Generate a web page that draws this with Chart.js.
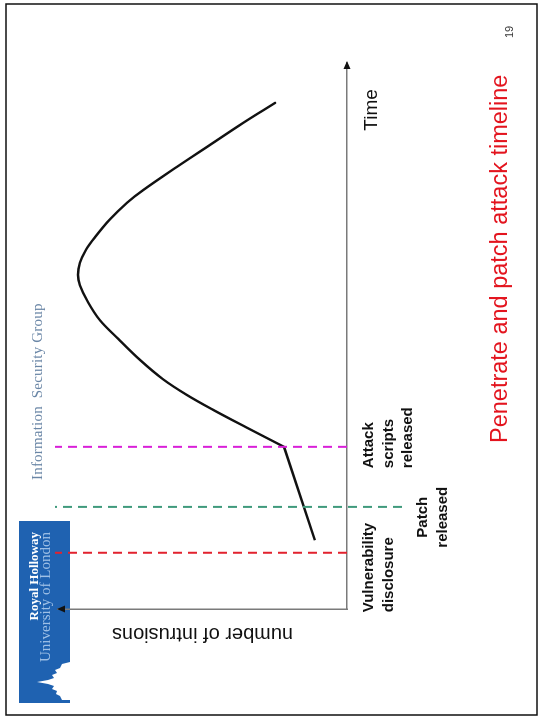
<!DOCTYPE html>
<html>
<head>
<meta charset="utf-8">
<title>Penetrate and patch attack timeline</title>
<script src="https://cdn.jsdelivr.net/npm/chart.js@4.4.0/dist/chart.umd.min.js"></script>
<style>
  html, body { margin: 0; padding: 0; background: #fff; width: 541px; height: 720px; overflow: hidden; }
  /* the slide is laid out landscape and turned a quarter turn anticlockwise */
  #slide { position: absolute; left: 0; top: 0; width: 720px; height: 541px;
           transform-origin: 0 0; transform: translateY(720px) rotate(-90deg); }
</style>
</head>
<body>
<div id="slide"><canvas id="chart" width="720" height="541"></canvas></div>
<script>
// Intrusions over time (arbitrary units on both axes)
const curveTime  = [12.6, 29.7, 33.2, 36.5, 39.2, 42.1, 45.6, 49.5, 52.9, 56.2, 59.3, 61.2, 63.4, 65.8, 68.1, 71.4, 74.4, 76.7, 81.0, 85.0, 89.0, 92.7];
const curveCount = [11.1, 21.8, 34.6, 46.4, 55.4, 63.7, 71.6, 79.2, 85.5, 89.6, 92.4, 93.1, 92.4, 90.3, 87.2, 82.0, 76.1, 70.6, 58.8, 47.4, 36.0, 24.9];
const scriptsIndex = 1;              // point where attack scripts appear (curve bends)

// Timeline events
const eventTimes  = [10.3, 18.7, 29.7];
const eventLabels = [["Vulnerability", "disclosure"], ["Patch", "released"], ["Attack", "scripts", "released"]];
const eventSpan   = [[0, 101], [-19, 101], [0, 101]];   // intrusion-axis extent of each marker line

// Axis titles
const xAxisTitle = "Time";
const yAxisTitle = "number of intrusions";
const slideTitle = "Penetrate and patch attack timeline";
const pageNumber = "19";

// Styling
const eventColors = ["#e2222e", "#3f9a7c", "#d81fd8"];
const labelAnchor = [-0.6, 16.8, 25.8];         // time value each event label is anchored at
const labelAlign  = ["left", "center", "left"];
const labelDrop   = [26, 80, 26];               // px below the time axis of first baseline
const SANS  = '"Liberation Sans", Arial, sans-serif';
const SERIF = '"Liberation Serif", "Times New Roman", serif';

const pts = (xs, ys) => xs.map((x, i) => ({ x, y: ys[i] }));

const datasets = [];
eventTimes.forEach((t, i) => {
  datasets.push({
    label: eventLabels[i].join(" "),
    data: [{ x: t, y: eventSpan[i][0] }, { x: t, y: eventSpan[i][1] }],
    borderColor: eventColors[i], borderWidth: 2, borderDash: [9, 6],
    pointRadius: 0, showLine: true, clip: false, tension: 0
  });
});
datasets.push({
  label: "before scripts",
  data: pts(curveTime.slice(0, scriptsIndex + 1), curveCount.slice(0, scriptsIndex + 1)),
  borderColor: "#111", borderWidth: 2.4, pointRadius: 0, showLine: true, tension: 0
});
datasets.push({
  label: "after scripts",
  data: pts(curveTime.slice(scriptsIndex), curveCount.slice(scriptsIndex)),
  borderColor: "#111", borderWidth: 2.4, pointRadius: 0, showLine: true, tension: 0.35,
  borderCapStyle: "round", borderJoinStyle: "round"
});

// Slide background: frame, college logo, group name
const slideBackground = {
  id: "slideBackground",
  beforeDraw(chart) {
    const ctx = chart.ctx;
    ctx.save();
    ctx.fillStyle = "#fff";
    ctx.fillRect(0, 0, chart.width, chart.height);
    ctx.strokeStyle = "#111";
    ctx.lineWidth = 1.5;
    ctx.strokeRect(5, 6, 711, 531);

    // logo block
    ctx.fillStyle = "#1f62b1";
    ctx.fillRect(17, 19, 182, 51);
    ctx.fillStyle = "#fff";
    ctx.beginPath();
    const castle = [[20,70],[20,62],[24,60],[26,56],[29,57],[31,52],[34,54],[36,48],[38,37],[40,48],[42,54],[45,52],[47,57],[50,55],[52,60],[56,62],[58,70]];
    castle.forEach(([u, v], i) => i ? ctx.lineTo(u, v) : ctx.moveTo(u, v));
    ctx.closePath();
    ctx.fill();
    ctx.textAlign = "right";
    ctx.textBaseline = "alphabetic";
    ctx.fillStyle = "#fff";
    ctx.font = "bold 13px " + SERIF;
    ctx.fillText("Royal Holloway", 188, 38);
    ctx.fillStyle = "#9fc0e6";
    ctx.font = "15px " + SERIF;
    ctx.fillText("University of London", 188, 50);

    // group name
    ctx.textAlign = "left";
    ctx.fillStyle = "#6a86a6";
    ctx.font = "15px " + SERIF;
    if ("letterSpacing" in ctx) ctx.letterSpacing = "0.2px";
    ctx.fillText("Information  Security Group", 240, 42);
    ctx.restore();
  }
};

// Axis arrows, axis titles, event labels, slide title
const annotations = {
  id: "annotations",
  afterDraw(chart) {
    const ctx = chart.ctx;
    const xs = chart.scales.x, ys = chart.scales.y;
    const area = chart.chartArea;
    const x0 = xs.getPixelForValue(0), y0 = ys.getPixelForValue(0);
    ctx.save();

    // arrowheads at the far ends of both axes
    ctx.fillStyle = "#111";
    ctx.beginPath();
    ctx.moveTo(area.right + 2, y0); ctx.lineTo(area.right - 6, y0 - 3.5); ctx.lineTo(area.right - 6, y0 + 3.5);
    ctx.closePath(); ctx.fill();
    ctx.beginPath();
    ctx.moveTo(x0, area.top - 1); ctx.lineTo(x0 - 3.5, area.top + 7); ctx.lineTo(x0 + 3.5, area.top + 7);
    ctx.closePath(); ctx.fill();

    // axis titles
    ctx.fillStyle = "#111";
    ctx.font = "19px " + SANS;
    ctx.textAlign = "left";
    ctx.textBaseline = "alphabetic";
    ctx.fillText(xAxisTitle, xs.getPixelForValue(87.6), y0 + 30);

    ctx.save();
    ctx.translate(x0 - 19, (area.top + area.bottom) / 2);
    ctx.rotate(-Math.PI / 2);
    ctx.textAlign = "center";
    ctx.font = "20px " + SANS;
    ctx.fillText(yAxisTitle, 0, 0);
    ctx.restore();

    // event labels
    ctx.font = "bold 15px " + SANS;
    eventLabels.forEach((lines, i) => {
      ctx.textAlign = labelAlign[i];
      const px = xs.getPixelForValue(labelAnchor[i]);
      lines.forEach((line, k) => ctx.fillText(line, px, y0 + labelDrop[i] + k * 19.5));
    });

    // slide title and page number
    ctx.fillStyle = "#e3141e";
    ctx.font = "23.5px " + SANS;
    ctx.textAlign = "left";
    ctx.fillText(slideTitle, 277, 507);
    ctx.fillStyle = "#333";
    ctx.font = "11px " + SANS;
    ctx.fillText(pageNumber, 682, 513);
    ctx.restore();
  }
};

new Chart(document.getElementById("chart"), {
  type: "scatter",
  data: { datasets },
  options: {
    responsive: false,
    animation: false,
    devicePixelRatio: 1,
    events: [],
    layout: { padding: { left: 111, right: 63, top: 58, bottom: 194 } },
    plugins: { legend: { display: false }, tooltip: { enabled: false }, title: { display: false } },
    scales: {
      x: {
        type: "linear", position: "bottom", min: 0, max: 100,
        grid: { display: false, drawTicks: false },
        ticks: { display: false },
        border: { display: true, color: "#7a7a7a", width: 1.5 }
      },
      y: {
        type: "linear", position: "left", min: 0, max: 100,
        grid: { display: false, drawTicks: false },
        ticks: { display: false },
        border: { display: true, color: "#7a7a7a", width: 1.5 }
      }
    }
  },
  plugins: [slideBackground, annotations]
});
</script>
</body>
</html>
